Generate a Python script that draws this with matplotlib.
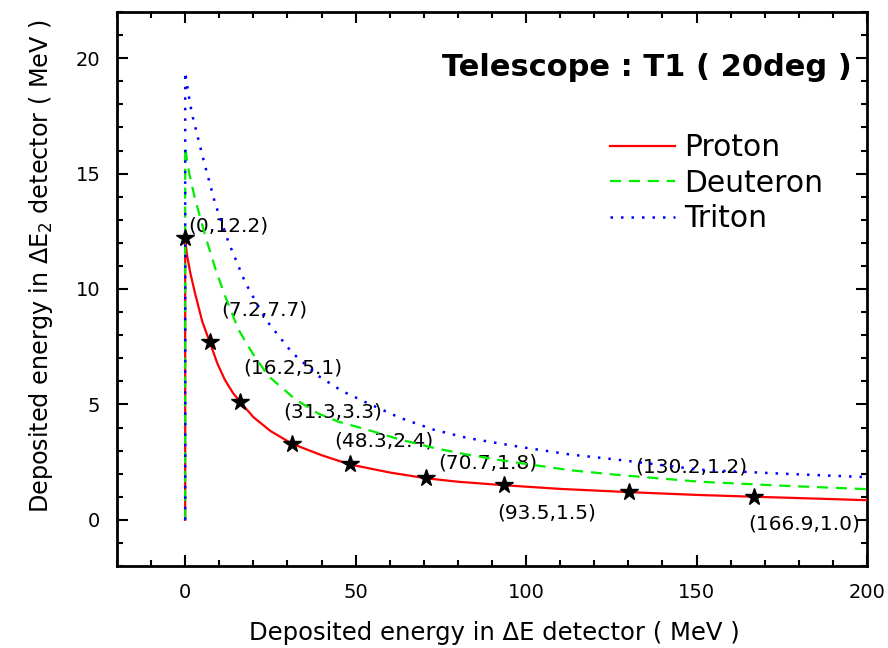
import matplotlib
matplotlib.use("Agg")
import matplotlib.pyplot as plt
from matplotlib.ticker import MultipleLocator

# Punch-through curves: energy in dE detector vs energy in dE2 detector
proton_x = [0, 0, 0.5, 1.5, 3.0, 5.0, 7.2, 9.5, 11.7, 14, 16.2, 20, 25, 31.3, 40, 48.3,
            60, 70.7, 80, 93.5, 110, 130.2, 150, 166.9, 185, 200]
proton_y = [0, 12.2, 11.5, 10.7, 9.75, 8.6, 7.7, 6.75, 6.05, 5.5, 5.1, 4.45, 3.85, 3.3, 2.8, 2.4,
            2.05, 1.8, 1.65, 1.5, 1.34, 1.2, 1.08, 1.0, 0.92, 0.85]

deuteron_x = [0, 0, 0.5, 1.2, 2.9, 5.9, 8.8, 11.7, 15.6, 19.6, 24.4, 32.3, 39.1, 45, 53.3,
              63, 72.8, 82.6, 91.4, 100, 112.9, 126.6, 151, 175, 200]
deuteron_y = [0, 16.2, 15.6, 15.0, 13.9, 12.3, 10.9, 9.7, 8.25, 7.25, 6.23, 5.22, 4.6, 4.25, 3.91,
              3.48, 3.12, 2.83, 2.61, 2.42, 2.15, 1.95, 1.65, 1.48, 1.33]

triton_x = [0, 0, 0.8, 1.96, 3.5, 5.0, 8.8, 12.7, 17.6, 23.5, 31.3, 39.1, 46, 53.3,
            63, 72.8, 82.6, 91.4, 98.2, 112.9, 126.6, 151, 175, 200]
triton_y = [0, 19.4, 18.6, 17.6, 16.7, 15.8, 13.7, 12.03, 10.29, 8.7, 7.25, 6.23, 5.58, 5.07,
            4.42, 3.91, 3.55, 3.33, 3.16, 2.83, 2.61, 2.17, 2.0, 1.85]

# Marked points on the proton curve
mark_x = [0, 7.2, 16.2, 31.3, 48.3, 70.7, 93.5, 130.2, 166.9]
mark_y = [12.2, 7.7, 5.1, 3.3, 2.4, 1.8, 1.5, 1.2, 1.0]
mark_text = ["(0,12.2)", "(7.2,7.7)", "(16.2,5.1)", "(31.3,3.3)", "(48.3,2.4)",
             "(70.7,1.8)", "(93.5,1.5)", "(130.2,1.2)", "(166.9,1.0)"]
# label placement around each marker (pixels)
mark_offsets = [(43, 12), (55, 32), (52, 34), (41, 32), (34, 23),
                (62, 15), (43, -28), (62, 25), (50, -27)]

plt.rcParams["mathtext.default"] = "regular"

fig = plt.figure(figsize=(8.88, 6.48), dpi=100)
ax = fig.add_axes([117 / 888, 1 - 566 / 648, 750 / 888, 554 / 648])

ax.plot(proton_x, proton_y, color="#ff0000", lw=1.6, label="Proton", zorder=3)
ax.plot(deuteron_x, deuteron_y, color="#00ee00", lw=1.6, ls=(0, (5, 3.5)),
        label="Deuteron", zorder=3)
ax.plot(triton_x, triton_y, color="#0000ff", lw=1.8, ls=(0, (1, 3.2)),
        label="Triton", zorder=3)

ax.plot(mark_x, mark_y, ls="none", marker="*", ms=13, color="black", zorder=4)
for x, y, t, off in zip(mark_x, mark_y, mark_text, mark_offsets):
    ax.annotate(t, (x, y), xytext=off, textcoords="offset pixels",
                ha="center", va="center", fontsize=14.5, zorder=1)

ax.set_xlim(-20, 200)
ax.set_ylim(-2, 22)
ax.xaxis.set_major_locator(MultipleLocator(50))
ax.xaxis.set_minor_locator(MultipleLocator(10))
ax.yaxis.set_major_locator(MultipleLocator(5))
ax.yaxis.set_minor_locator(MultipleLocator(1))
ax.tick_params(which="both", direction="in", top=True, right=True, width=1.5,
               labelsize=14, pad=12)
ax.tick_params(which="major", length=8)
ax.tick_params(which="minor", length=4.5)
for s in ax.spines.values():
    s.set_linewidth(2)

fig.text(494 / 888, 1 - 633 / 648, "Deposited energy in ΔE detector ( MeV )",
         ha="center", va="center", fontsize=17.5)
fig.text(41 / 888, 1 - 266 / 648, "Deposited energy in ΔE$_2$ detector ( MeV )",
         ha="center", va="center", fontsize=17.2, rotation=90)

fig.text(852 / 888, 1 - 68 / 648, "Telescope : T1 ( 20deg )", ha="right", va="center",
         fontsize=22, fontweight="bold")

ax.legend(loc="upper left", bbox_to_anchor=(610 / 888, 1 - 133 / 648),
          bbox_transform=fig.transFigure, frameon=False, fontsize=21.4,
          handlelength=2.2, handletextpad=0.3, labelspacing=0.22,
          borderpad=0, borderaxespad=0)

fig.savefig("out.png", dpi=100)
